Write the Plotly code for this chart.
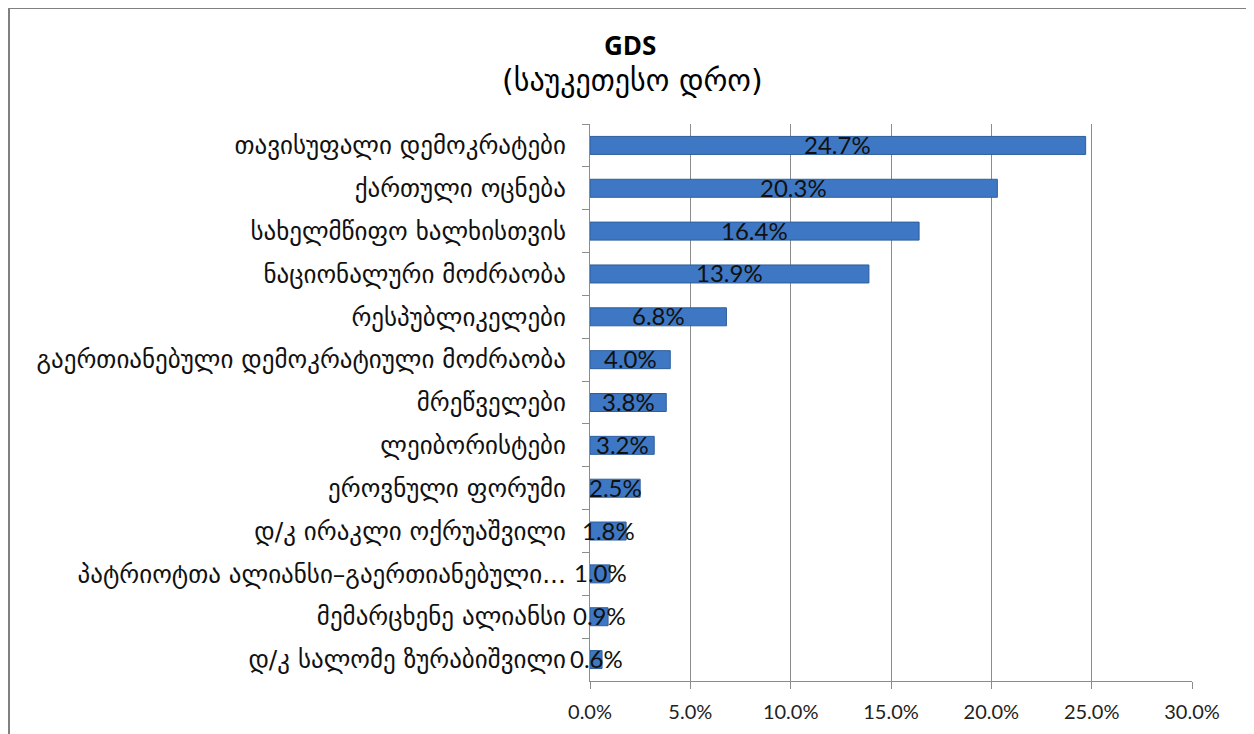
import plotly.graph_objects as go

categories = [
    "თავისუფალი დემოკრატები",
    "ქართული ოცნება",
    "სახელმწიფო ხალხისთვის",
    "ნაციონალური მოძრაობა",
    "რესპუბლიკელები",
    "გაერთიანებული დემოკრატიული მოძრაობა",
    "მრეწველები",
    "ლეიბორისტები",
    "ეროვნული ფორუმი",
    "დ/კ ირაკლი ოქრუაშვილი",
    "პატრიოტთა ალიანსი–გაერთიანებული...",
    "მემარცხენე ალიანსი",
    "დ/კ სალომე ზურაბიშვილი",
]
values = [24.7, 20.3, 16.4, 13.9, 6.8, 4.0, 3.8, 3.2, 2.5, 1.8, 1.0, 0.9, 0.6]
x_ticks = [0, 5, 10, 15, 20, 25, 30]
x_tick_labels = [f"{t:.1f}%" for t in x_ticks]

W, H = 1254, 734
OFF = 8  # page body margin
L, R, T, B = 590 - OFF, 1254 - 1192 + OFF, 124 - OFF, 734 - 681 + OFF
pw = W - L - R
ph = H - T - B


def px(xp):
    return (xp - OFF - L) / pw


def py(yp):
    return 1 - (yp - OFF - T) / ph


fig = go.Figure()
fig.add_trace(go.Bar(
    y=categories, x=values, orientation="h",
    width=0.42,
    marker=dict(color="#3E78C4", line=dict(color="#2E5E9C", width=1)),
    hoverinfo="x+y",
))

annotations = []
for c, v in zip(categories, values):
    annotations.append(dict(
        x=v / 2, y=c, xref="x", yref="y", text=f"{v:.1f}%",
        showarrow=False, yshift=1,
        font=dict(family="Lato, Liberation Sans, sans-serif", size=24, color="#111111"),
    ))

annotations.append(dict(
    x=px(630), y=py(45), xref="paper", yref="paper", text="<b>GDS</b>",
    xanchor="center", yanchor="middle",
    showarrow=False, font=dict(family="Open Sans, sans-serif", size=26, color="#000"),
))
annotations.append(dict(
    x=px(632), y=py(80), xref="paper", yref="paper", text="(საუკეთესო დრო)",
    xanchor="center", yanchor="middle",
    showarrow=False, font=dict(family="DejaVu Sans, sans-serif", size=30, color="#000"),
))

shapes = [
    dict(type="line", xref="paper", yref="paper",
         x0=px(7), x1=px(1262), y0=py(8), y1=py(8),
         line=dict(color="#808080", width=2)),
    dict(type="line", xref="paper", yref="paper",
         x0=px(9), x1=px(9), y0=py(8), y1=py(742),
         line=dict(color="#808080", width=2)),
]

fig.update_layout(
    width=W, height=H,
    margin=dict(l=L, r=R, t=T, b=B, pad=0),
    paper_bgcolor="white", plot_bgcolor="white",
    showlegend=False,
    annotations=annotations,
    shapes=shapes,
    xaxis=dict(
        range=[0, 30], tickvals=x_ticks, ticktext=x_tick_labels,
        showgrid=True, gridcolor="#8c8c8c", gridwidth=1,
        showline=True, linecolor="#8c8c8c", linewidth=1,
        ticks="outside", ticklen=7, tickcolor="#8c8c8c",
        ticklabelstandoff=6,
        zeroline=False,
        tickfont=dict(family="Lato, Liberation Sans, sans-serif", size=20, color="#222"),
    ),
    yaxis=dict(
        autorange="reversed",
        showline=True, linecolor="#8c8c8c", linewidth=1,
        ticks="outside", ticklen=7, tickcolor="#8c8c8c", tickson="boundaries",
        showgrid=False,
        ticklabelstandoff=18,
        tickfont=dict(family="DejaVu Sans, sans-serif", size=25, color="#111"),
    ),
)

fig.write_html("out.html")
